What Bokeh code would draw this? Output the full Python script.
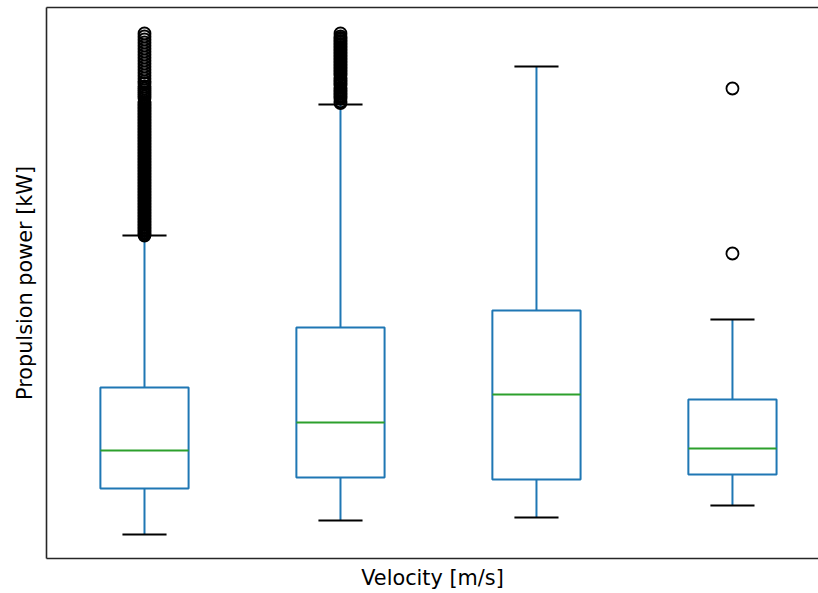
from bokeh.plotting import figure
from bokeh.models import Range1d, LinearAxis, FixedTicker
from bokeh.embed import file_html
from bokeh.resources import INLINE

# ---- data (kW) ----
positions = [1, 2, 3, 4]
lower_whisker = [240, 380, 410, 530]
q1 = [700, 810, 790, 840]
median = [1080, 1360, 1640, 1100]
q3 = [1710, 2310, 2480, 1590]
upper_whisker = [3230, 4540, 4920, 2390]

outliers_1 = [
    3230, 3245, 3260, 3275, 3290, 3305, 3320, 3335, 3350, 3365,
    3380, 3395, 3410, 3425, 3440, 3455, 3470, 3485, 3500, 3515,
    3530, 3545, 3560, 3575, 3590, 3605, 3620, 3635, 3650, 3665,
    3680, 3695, 3710, 3725, 3740, 3755, 3770, 3785, 3800, 3815,
    3830, 3845, 3860, 3875, 3890, 3905, 3920, 3935, 3950, 3965,
    3980, 3995, 4010, 4025, 4040, 4055, 4070, 4085, 4100, 4115,
    4130, 4145, 4160, 4175, 4190, 4205, 4220, 4235, 4250, 4265,
    4280, 4295, 4310, 4325, 4340, 4355, 4370, 4385, 4400, 4415,
    4430, 4445, 4460, 4475, 4490, 4505, 4520, 4535, 4550, 4565,
    4600, 4620, 4640, 4660, 4680, 4700, 4720, 4750, 4770, 4800,
    4830, 4860, 4890, 4920, 4950, 4980, 5010, 5040, 5070, 5100,
    5130, 5160, 5190, 5220, 5250]
outliers_2 = [
    4555, 4570, 4600, 4615, 4630, 4645, 4660, 4675, 4690, 4705,
    4730, 4745, 4760, 4775, 4790, 4805, 4830, 4845, 4860, 4875,
    4890, 4905, 4920, 4935, 4950, 4965, 4980, 4995, 5010, 5025,
    5040, 5055, 5070, 5085, 5100, 5115, 5130, 5145, 5160, 5175,
    5190, 5205, 5220, 5250]
outliers_3 = []
outliers_4 = [3050, 4700]

x_label = "Velocity [m/s]"
y_label = "Propulsion power [kW]"

BOX_W = 0.45
CAP_W = 0.225
BLUE = "#1f77b4"
GREEN = "#2ca02c"
FONT = "DejaVu Sans"

p = figure(width=818, height=593, output_backend="svg", toolbar_location=None,
           x_range=Range1d(0.5, 4.439), y_range=Range1d(0, 5510),
           min_border_left=46, min_border_right=0, min_border_top=7,
           min_border_bottom=35, x_axis_location=None, y_axis_location=None)
p.outline_line_color = None
p.xgrid.visible = False
p.ygrid.visible = False
p.background_fill_color = "white"
p.border_fill_color = "white"

def bare_axis(label=None, standoff=0):
    ax = LinearAxis(ticker=FixedTicker(ticks=[]))
    ax.axis_line_color = "#262626"
    ax.axis_line_width = 1.6
    ax.major_tick_line_color = None
    ax.minor_tick_line_color = None
    ax.major_label_standoff = 0
    ax.major_tick_out = 0
    ax.major_tick_in = 0
    if label:
        ax.axis_label = label
        ax.axis_label_text_font = FONT
        ax.axis_label_text_font_size = "20.8px"
        ax.axis_label_text_font_style = "normal"
        ax.axis_label_text_color = "black"
        ax.axis_label_standoff = standoff
    return ax

p.add_layout(bare_axis(y_label, 10), "left")
p.add_layout(bare_axis(x_label, 7), "below")
p.add_layout(bare_axis(), "above")

# boxes
p.vbar(x=positions, width=BOX_W, top=q3, bottom=q1, fill_color=None,
       line_color=BLUE, line_width=2)
# whiskers
p.segment(x0=positions, y0=q1, x1=positions, y1=lower_whisker, line_color=BLUE, line_width=2)
p.segment(x0=positions, y0=q3, x1=positions, y1=upper_whisker, line_color=BLUE, line_width=2)
# caps
cx0 = [x - CAP_W / 2 for x in positions]
cx1 = [x + CAP_W / 2 for x in positions]
p.segment(x0=cx0, y0=lower_whisker, x1=cx1, y1=lower_whisker, line_color="black", line_width=2)
p.segment(x0=cx0, y0=upper_whisker, x1=cx1, y1=upper_whisker, line_color="black", line_width=2)
# medians
mx0 = [x - BOX_W / 2 for x in positions]
mx1 = [x + BOX_W / 2 for x in positions]
p.segment(x0=mx0, y0=median, x1=mx1, y1=median, line_color=GREEN, line_width=2)

# outliers
for pos, vals in zip(positions, [outliers_1, outliers_2, outliers_3, outliers_4]):
    if vals:
        p.scatter(x=[pos] * len(vals), y=vals, marker="circle", size=12,
                  fill_color=None, line_color="black", line_width=1.8)

open("out.html", "w").write(file_html(p, INLINE))
